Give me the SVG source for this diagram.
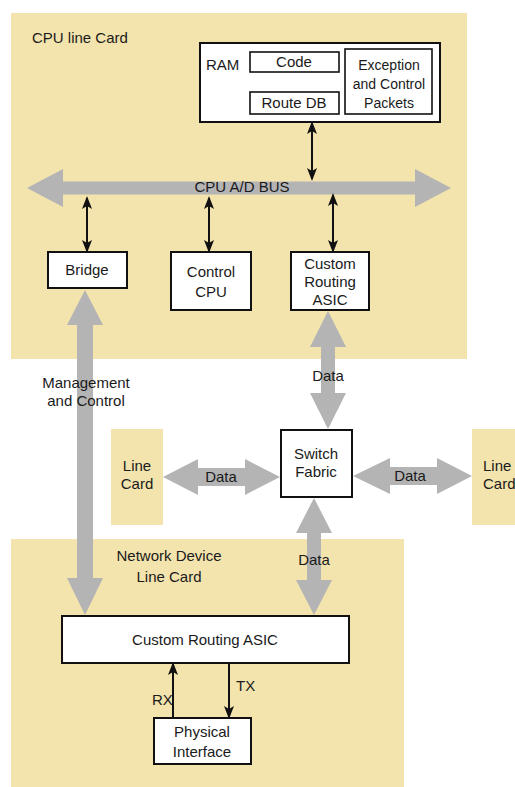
<svg xmlns="http://www.w3.org/2000/svg" width="515" height="787" viewBox="0 0 515 787">
  <defs>
    <style>
      .panel { fill: #f3e4ae; }
      .box { fill: #ffffff; stroke: #111111; stroke-width: 2; }
      .inner { fill: #ffffff; stroke: #111111; stroke-width: 1.6; }
      .fat { fill: #b4b4b4; }
      .wire { stroke: #111111; stroke-width: 2; fill: none; }
      text { font-family: "Liberation Sans", Arial, sans-serif; font-size: 15px; fill: #1a1a1a; }
      .c { text-anchor: middle; }
      .s { font-size: 14px; }
    </style>
    <marker id="tip" viewBox="0 0 13 12" refX="11" refY="6" markerWidth="13" markerHeight="12" markerUnits="userSpaceOnUse" orient="auto-start-reverse">
      <path d="M0,1 L13,6 L0,11 L3,6 Z" fill="#111111"/>
    </marker>
  </defs>

  <!-- card panels -->
  <g id="cpu-line-card">
    <rect class="panel" x="11" y="13" width="456" height="346"/>
    <text x="32" y="43">CPU line Card</text>
  </g>
  <g id="network-line-card">
    <rect class="panel" x="11" y="539" width="393" height="248"/>
    <text class="c" x="169" y="561">Network Device</text>
    <text class="c" x="169" y="582">Line Card</text>
  </g>
  <g id="line-card-left">
    <rect class="panel" x="111" y="429" width="52" height="96"/>
    <text class="c" x="137" y="471">Line</text>
    <text class="c" x="137" y="489">Card</text>
  </g>
  <g id="line-card-right">
    <rect class="panel" x="472" y="429" width="52" height="96"/>
    <text x="483" y="471">Line</text>
    <text x="483" y="489">Card</text>
  </g>

  <!-- connectors -->
  <g id="connectors">
    <!-- CPU A/D bus -->
    <polygon class="fat" points="27,188 63,169 63,181.5 415,181.5 415,169 451,188 415,207 415,194.5 63,194.5 63,207"/>
    <!-- management and control path -->
    <polygon class="fat" points="85,290 103,325 93,325 93,578 103,578 85,615 67,578 77,578 77,325 67,325"/>
    <!-- routing ASIC to switch fabric -->
    <polygon class="fat" points="328,311 346,347 335,347 335,393 346,393 328,429 310,393 321,393 321,347 310,347"/>
    <!-- switch fabric to line card ASIC -->
    <polygon class="fat" points="314,498 332,533 321,533 321,580 332,580 314,615 296,580 307,580 307,533 296,533"/>
    <!-- left line card to switch fabric -->
    <polygon class="fat" points="163,477 198,459 198,468 245,468 245,459 280,477 245,495 245,486 198,486 198,495"/>
    <!-- switch fabric to right line card -->
    <polygon class="fat" points="353,476 390,458 390,467 437,467 437,458 472,476 437,494 437,485 390,485 390,494"/>

    <!-- bus taps -->
    <line class="wire" x1="312" y1="123" x2="312" y2="179" marker-start="url(#tip)" marker-end="url(#tip)"/>
    <line class="wire" x1="87" y1="198" x2="87" y2="251" marker-start="url(#tip)" marker-end="url(#tip)"/>
    <line class="wire" x1="209" y1="198" x2="209" y2="251" marker-start="url(#tip)" marker-end="url(#tip)"/>
    <line class="wire" x1="333" y1="195" x2="333" y2="251" marker-start="url(#tip)" marker-end="url(#tip)"/>

    <!-- RX / TX -->
    <line class="wire" x1="173" y1="718" x2="173" y2="664" marker-end="url(#tip)"/>
    <line class="wire" x1="229" y1="664" x2="229" y2="717" marker-end="url(#tip)"/>

    <!-- connector labels -->
    <text class="c" x="242" y="192">CPU A/D BUS</text>
    <text class="c" x="86" y="388">Management</text>
    <text class="c" x="86" y="406">and Control</text>
    <text class="c" x="328" y="381">Data</text>
    <text class="c" x="314" y="565">Data</text>
    <text class="c" x="221" y="482">Data</text>
    <text class="c" x="410" y="481">Data</text>
    <text x="152" y="705">RX</text>
    <text x="236" y="691">TX</text>
  </g>

  <!-- nodes -->
  <g id="ram">
    <rect class="box" x="200" y="43" width="240" height="79"/>
    <text x="206" y="70">RAM</text>
  </g>
  <g id="code">
    <rect class="inner" x="250" y="52" width="89" height="20"/>
    <text class="c" x="294" y="67">Code</text>
  </g>
  <g id="route-db">
    <rect class="inner" x="250" y="92" width="89" height="22"/>
    <text class="c" x="294" y="108">Route DB</text>
  </g>
  <g id="exception-packets">
    <rect class="inner" x="345" y="49" width="87" height="65"/>
    <text class="c s" x="389" y="70">Exception</text>
    <text class="c s" x="389" y="89">and Control</text>
    <text class="c s" x="389" y="108">Packets</text>
  </g>
  <g id="bridge">
    <rect class="box" x="48" y="252" width="79" height="36"/>
    <text class="c" x="87" y="275">Bridge</text>
  </g>
  <g id="control-cpu">
    <rect class="box" x="171" y="252" width="80" height="58"/>
    <text class="c" x="211" y="277">Control</text>
    <text class="c" x="211" y="297">CPU</text>
  </g>
  <g id="cpu-routing-asic">
    <rect class="box" x="291" y="252" width="78" height="58"/>
    <text class="c" x="330" y="269">Custom</text>
    <text class="c" x="330" y="287">Routing</text>
    <text class="c" x="330" y="305">ASIC</text>
  </g>
  <g id="switch-fabric">
    <rect class="box" x="281" y="430" width="71" height="67"/>
    <text class="c" x="316" y="459">Switch</text>
    <text class="c" x="316" y="477">Fabric</text>
  </g>
  <g id="line-routing-asic">
    <rect class="box" x="62" y="616" width="287" height="47"/>
    <text class="c" x="205" y="645">Custom Routing ASIC</text>
  </g>
  <g id="physical-interface">
    <rect class="box" x="154" y="718" width="97" height="46"/>
    <text class="c" x="202" y="737">Physical</text>
    <text class="c" x="202" y="757">Interface</text>
  </g>
</svg>
